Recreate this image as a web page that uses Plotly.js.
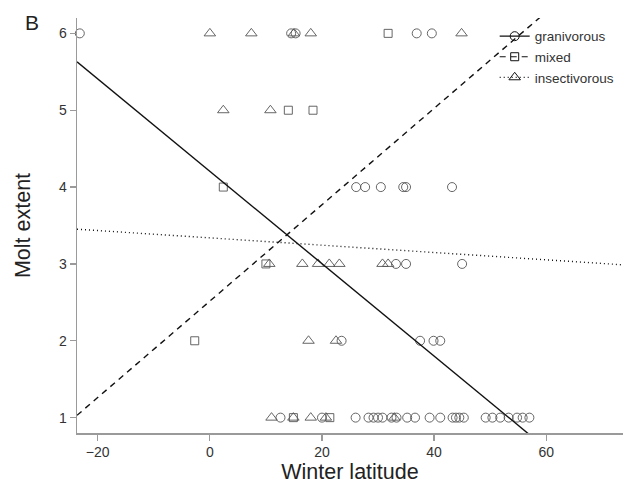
<!DOCTYPE html>
<html>
<head>
<meta charset="utf-8">
<script src="https://cdn.plot.ly/plotly-3.0.1.min.js"></script>
<style>html,body{margin:0;padding:0;background:#fff;}#chart{width:625px;height:494px;}</style>
</head>
<body>
<div id="chart"></div>
<script>
// Granivorous (circles)
const granX = [-23.2, 14.5, 15.3, 36.9, 39.6,
  26.1, 27.7, 30.5, 34.5, 35.0, 43.2,
  33.2, 35.0, 45.0,
  23.5, 37.5, 39.9, 41.1,
  12.6, 20.0, 26.0, 28.3, 29.2, 30.0, 30.8, 32.4, 33.3, 35.2, 36.6, 39.2, 41.1, 43.3, 43.9, 44.5, 45.3, 49.2, 50.4, 51.8, 53.3, 54.8, 55.8, 57.0];
const granY = [6, 6, 6, 6, 6,
  4, 4, 4, 4, 4, 4,
  3, 3, 3,
  2, 2, 2, 2,
  1, 1, 1, 1, 1, 1, 1, 1, 1, 1, 1, 1, 1, 1, 1, 1, 1, 1, 1, 1, 1, 1, 1, 1];
// Mixed (squares)
const mixedX = [31.8, 14.0, 18.4, 2.4, 10.0, -2.7, 14.9, 21.4];
const mixedY = [6, 5, 5, 4, 3, 2, 1, 1];
// Insectivorous (triangles)
const insectX = [0.0, 7.4, 15.0, 18.0, 44.9,
  2.4, 10.8,
  10.6, 16.5, 19.3, 21.3, 23.1, 30.8, 31.8,
  17.6, 22.5,
  11.0, 14.9, 18.0, 20.7, 32.9];
const insectY = [6, 6, 6, 6, 6,
  5, 5,
  3, 3, 3, 3, 3, 3, 3,
  2, 2,
  1, 1, 1, 1, 1];

// Fitted regression lines: intercept and slope per group
const groups = ["granivorous", "mixed", "insectivorous"];
const fitIntercept = [4.205, 2.516, 3.339];
const fitSlope = [-0.0601, 0.0627, -0.00476];

const xTicks = [-20, 0, 20, 40, 60];
const yTicks = [1, 2, 3, 4, 5, 6];
const xRange = [-23.7, 73.7];
const yRange = [0.8, 6.2];

const ptColor = '#555555';
const symbols = ['circle-open', 'square-open', 'triangle-up-open'];
const sizes = [9, 8, 10];
const dashes = ['solid', '6px,5px', '1px,3px'];
const xs = [granX, mixedX, insectX];
const ys = [granY, mixedY, insectY];

const traces = [];
for (let i = 0; i < 3; i++) {
  traces.push({
    type: 'scatter', mode: 'markers', x: xs[i], y: ys[i],
    marker: {symbol: symbols[i], size: sizes[i], color: ptColor, line: {width: 0.9, color: ptColor}},
    showlegend: false, cliponaxis: false, hoverinfo: 'x+y'
  });
}
for (let i = 0; i < 3; i++) {
  traces.push({
    type: 'scatter', mode: 'lines',
    x: xRange,
    y: xRange.map(v => fitIntercept[i] + fitSlope[i] * v),
    line: {color: '#111111', width: 1.4, dash: dashes[i]},
    showlegend: false, hoverinfo: 'skip'
  });
}
// legend entries
for (let i = 0; i < 3; i++) {
  traces.push({
    type: 'scatter', mode: 'lines+markers', x: [null], y: [null],
    name: groups[i],
    line: {color: '#111111', width: 1.2, dash: dashes[i]},
    marker: {symbol: symbols[i], size: sizes[i], color: '#111111', line: {width: 1, color: '#111111'}},
    showlegend: true
  });
}

const FAM = 'Liberation Sans, Arial, sans-serif';
const axisFont = {family: FAM, size: 14, color: '#333333'};
const layout = {
  width: 625, height: 494,
  margin: {l: 77, r: 2, t: 18, b: 61},
  paper_bgcolor: '#ffffff', plot_bgcolor: '#ffffff',
  font: {family: FAM, color: '#222222'},
  showlegend: true,
  legend: {x: 0.765, y: 0.993, xanchor: 'left', yanchor: 'top', bgcolor: 'rgba(0,0,0,0)',
    font: {family: FAM, size: 13.5, color: '#333333'},
    tracegroupgap: 0, itemwidth: 30},
  xaxis: {
    range: xRange, tickvals: xTicks, ticktext: xTicks.map(v => v < 0 ? '\u2212' + Math.abs(v) : String(v)),
    showgrid: false, zeroline: false, showline: true, linecolor: '#9a9a9a', linewidth: 1.5,
    ticks: 'outside', ticklen: 6, tickcolor: '#9a9a9a', tickwidth: 1.2,
    tickfont: axisFont,
    title: {text: 'Winter latitude', font: {family: FAM, size: 21.5, color: '#222222'}, standoff: 4}
  },
  yaxis: {
    range: yRange, tickvals: yTicks,
    showgrid: false, zeroline: false, showline: true, linecolor: '#9a9a9a', linewidth: 1.5,
    ticks: 'outside', ticklen: 6, tickcolor: '#9a9a9a', tickwidth: 1.2,
    tickfont: axisFont,
    title: {text: 'Molt extent', font: {family: FAM, size: 21.5, color: '#222222'}, standoff: 22}
  },
  annotations: [{
    text: 'B', xref: 'paper', yref: 'paper', x: -0.099, y: 0.988, xanchor: 'left', yanchor: 'middle',
    showarrow: false, font: {family: FAM, size: 21, color: '#222222'}
  }]
};

Plotly.newPlot('chart', traces, layout, {staticPlot: true, displayModeBar: false});
</script>
</body>
</html>
